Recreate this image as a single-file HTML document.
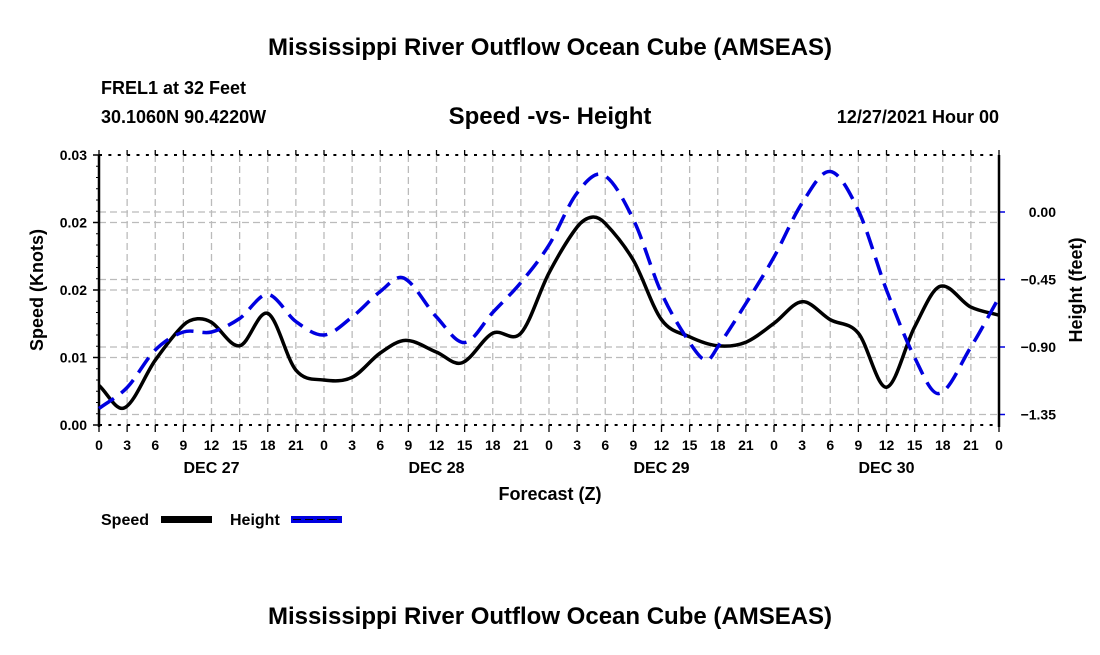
<!DOCTYPE html>
<html><head><meta charset="utf-8"><style>
body{margin:0;background:#fff;}
svg text{font-family:"Liberation Sans",Arial,sans-serif;font-weight:bold;fill:#000;}
</style></head><body>
<svg width="1100" height="650" viewBox="0 0 1100 650" xmlns="http://www.w3.org/2000/svg">
<text x="550" y="55" font-size="24" text-anchor="middle">Mississippi River Outflow Ocean Cube (AMSEAS)</text>
<text x="101" y="94" font-size="18">FREL1 at 32 Feet</text>
<text x="101" y="123" font-size="18">30.1060N  90.4220W</text>
<text x="550" y="124" font-size="24" text-anchor="middle">Speed -vs- Height</text>
<text x="999" y="123" font-size="18" text-anchor="end">12/27/2021 Hour 00</text>
<g id="grid"></g>
<g id="axes"></g>
<g id="series"></g>
<text x="550" y="500" font-size="18" text-anchor="middle">Forecast (Z)</text>
<text transform="translate(43,290) rotate(-90)" font-size="18" text-anchor="middle">Speed (Knots)</text>
<text transform="translate(1082,290) rotate(-90)" font-size="18" text-anchor="middle">Height (feet)</text>
<g>
<text x="101" y="525" font-size="16">Speed</text>
<rect x="161" y="516" width="51" height="7" fill="#000"/>
<text x="230" y="525" font-size="16">Height</text>
<rect x="291" y="516" width="51" height="7" fill="#0000e0"/>
<line x1="293" y1="519.5" x2="340" y2="519.5" stroke="#000" stroke-width="1" stroke-dasharray="8,4"/>
</g>
<text x="550" y="624" font-size="24" text-anchor="middle">Mississippi River Outflow Ocean Cube (AMSEAS)</text>
</svg>
<script>
const speedHours=[0,2.7,6,9,10.5,12,15,18,21,24,27,30,32.7,36,38.7,42,45,48,51,52.6,54,57,60,63,66,69,72,75,78,81,84,87,89.7,93,96];
const speedValues=[0.0044,0.0019,0.0072,0.0111,0.0118,0.0114,0.0088,0.0124,0.0061,0.005,0.0053,0.008,0.0094,0.0081,0.0069,0.0102,0.0102,0.0169,0.022,0.0231,0.0224,0.0183,0.0117,0.0098,0.0088,0.0092,0.0113,0.0137,0.0117,0.0102,0.0042,0.0109,0.0154,0.0131,0.0122];
const heightHours=[0,3,6,9,12,15,18,21,24,27,30,32.5,36,39,42,45,48,51,53.8,57,60,63,64.8,66,69,72,75,78,81,84,87,89.6,93,96];
const heightValues=[-1.31,-1.17,-0.92,-0.80,-0.80,-0.71,-0.55,-0.73,-0.82,-0.70,-0.53,-0.44,-0.70,-0.87,-0.67,-0.47,-0.22,0.127,0.247,-0.05,-0.54,-0.87,-0.99,-0.90,-0.61,-0.30,0.06,0.27,0.01,-0.52,-0.97,-1.21,-0.90,-0.57];
const leftTicks=[0,0.0075,0.015,0.0225,0.03];
const leftTickLabels=["0.00","0.01","0.02","0.02","0.03"];
const rightTicks=[0,-0.45,-0.9,-1.35];
const rightTickLabels=["0.00","\u22120.45","\u22120.90","\u22121.35"];
const dayLabels=["DEC 27","DEC 28","DEC 29","DEC 30"];
const dayCenters=[12,36,60,84];

const X0=99,X1=999,Y0=425,Y1=155;
const xS=h=>X0+(X1-X0)*h/96;
const yL=v=>Y0-(Y0-Y1)*v/0.03;
const yR=v=>212-150*v;
const NS="http://www.w3.org/2000/svg";
function mk(p,tag,attrs){const e=document.createElementNS(NS,tag);for(const k in attrs)e.setAttribute(k,attrs[k]);p.appendChild(e);return e;}
const grid=document.getElementById('grid'),axes=document.getElementById('axes'),series=document.getElementById('series');
const gs={stroke:"#bbb","stroke-width":1.3,"stroke-dasharray":"7,4"};
for(let h=3;h<96;h+=3){const l=mk(grid,'line',Object.assign({x1:xS(h),x2:xS(h),y1:Y1,y2:Y0},gs));

}
leftTicks.forEach((v,i)=>{if(i>0&&i<4){const l=mk(grid,'line',Object.assign({x1:X0,x2:X1,y1:yL(v),y2:yL(v)},gs));

}
const t=mk(axes,'text',{x:X0-12,y:yL(v)+5,'font-size':14,'text-anchor':'end'});t.textContent=leftTickLabels[i];


mk(axes,'line',{x1:X0-6,x2:X0,y1:yL(v),y2:yL(v),stroke:'#000','stroke-width':1.5});});
for(let k=0;k<=24;k++){const y=Y0-(Y0-Y1)*k/24;mk(axes,'line',{x1:X0-3,x2:X0,y1:y,y2:y,stroke:'#000','stroke-width':1});}
rightTicks.forEach((v,i)=>{const l=mk(grid,'line',Object.assign({x1:X0,x2:X1,y1:yR(v),y2:yR(v)},gs));


mk(axes,'line',{x1:X1,x2:X1+6,y1:yR(v),y2:yR(v),stroke:'#0000e0','stroke-width':1.5});
const t=mk(axes,'text',{x:1056,y:yR(v)+5,'font-size':14,'text-anchor':'end'});t.textContent=rightTickLabels[i];

});
mk(axes,'line',{x1:X0,x2:X1,y1:Y1,y2:Y1,stroke:'#000','stroke-width':2,'stroke-dasharray':'3,6.375'});
mk(axes,'line',{x1:X0,x2:X1,y1:Y0,y2:Y0,stroke:'#000','stroke-width':2,'stroke-dasharray':'3,6.375'});
mk(axes,'line',{x1:X0,x2:X0,y1:Y1,y2:Y0+2,stroke:'#000','stroke-width':2.5});
mk(axes,'line',{x1:X1,x2:X1,y1:Y1,y2:Y0+2,stroke:'#000','stroke-width':2.5});
for(let h=0;h<=96;h+=3){mk(axes,'line',{x1:xS(h),x2:xS(h),y1:Y0,y2:Y0+7,stroke:'#000','stroke-width':1.3});
mk(axes,'line',{x1:xS(h),x2:xS(h),y1:Y1-5,y2:Y1,stroke:'#000','stroke-width':1.3});
const t=mk(axes,'text',{x:xS(h),y:450,'font-size':14,'text-anchor':'middle'});t.textContent=String(h%24);

}
dayLabels.forEach((d,i)=>{const t=mk(axes,'text',{x:xS(dayCenters[i]),y:473,'font-size':16,'text-anchor':'middle'});t.textContent=d;

});
function path(xs,ys){const p=xs.map((x,i)=>[x,ys[i]]);let d=`M${p[0][0]},${p[0][1]}`;
for(let i=0;i<p.length-1;i++){const a=p[Math.max(0,i-1)],b=p[i],c=p[i+1],e=p[Math.min(p.length-1,i+2)];
const dx=c[0]-b[0];
const s1=(c[1]-a[1])/(c[0]-a[0]||1),s2=(e[1]-b[1])/(e[0]-b[0]||1);
const c1=[b[0]+dx/3,b[1]+s1*dx/3],c2=[c[0]-dx/3,c[1]-s2*dx/3];
d+=` C${c1[0]},${c1[1]} ${c2[0]},${c2[1]} ${c[0]},${c[1]}`;}return d;}
const sp=mk(series,'path',{d:path(speedHours.map(xS),speedValues.map(yL)),fill:'none',stroke:'#000','stroke-width':3.5,'stroke-linejoin':'round'});


const hp=mk(series,'path',{d:path(heightHours.map(xS),heightValues.map(yR)),fill:'none',stroke:'#0000e0','stroke-width':3.5,'stroke-dasharray':'18,9'});


</script>
</body></html>
